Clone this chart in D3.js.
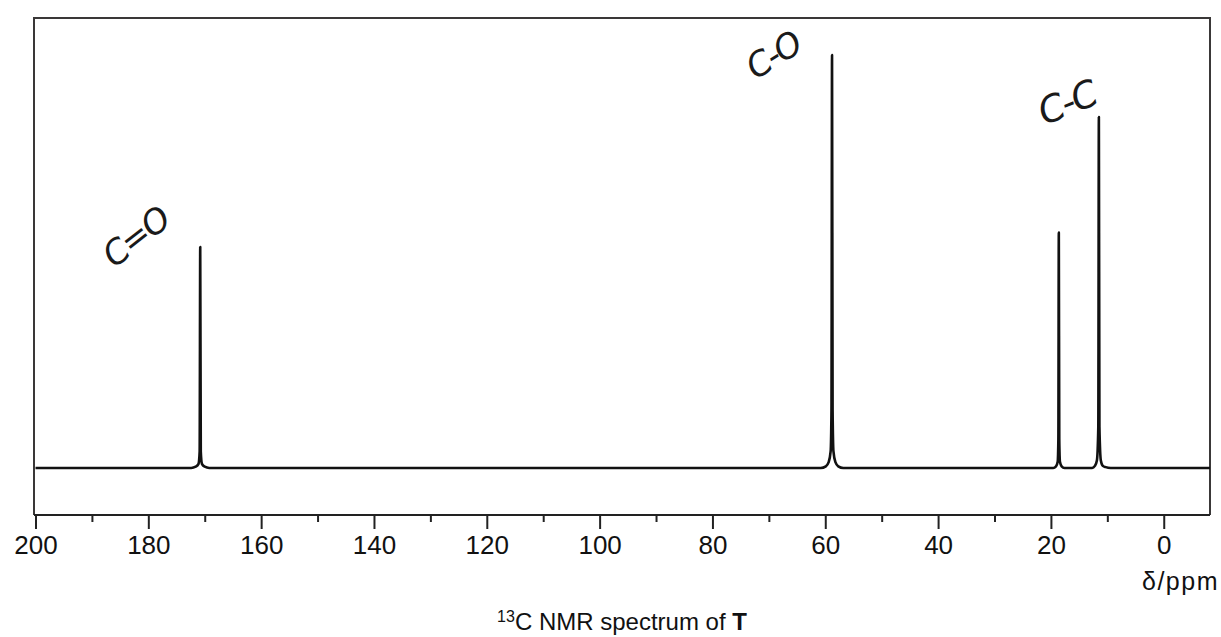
<!DOCTYPE html>
<html>
<head>
<meta charset="utf-8">
<script src="https://cdn.jsdelivr.net/npm/d3@7/dist/d3.min.js"></script>
<style>
  html, body { margin: 0; padding: 0; background: #ffffff; }
  svg { display: block; }
</style>
</head>
<body>
<svg id="chart" width="1221" height="637"></svg>
<script>
// Chemical-shift axis ticks (ppm)
const majorTicks = [200, 180, 160, 140, 120, 100, 80, 60, 40, 20, 0];
const minorTicks = [190, 170, 150, 130, 110, 90, 70, 50, 30, 10];

// Spectrum trace: chemical shift (ppm) and relative intensity, point by point
const tracePpm = [
  200.0,
  172.4, 171.6, 171.1, 170.9, 170.8, 170.7, 170.5, 170.0, 169.2,
  60.8, 59.9, 59.4, 59.05, 58.9, 58.8, 58.7, 58.55, 58.2, 57.7, 56.8,
  19.6, 19.1, 18.8, 18.68, 18.6, 18.52, 18.4, 18.1, 17.6,
  12.7, 12.2, 11.85, 11.6, 11.5, 11.4, 11.15, 10.8, 10.3, 9.4,
  -8.2
];
const traceIntensity = [
  0,
  0, 0.3, 1.0, 4.0, 53.5, 4.0, 1.0, 0.3, 0,
  0, 0.4, 1.4, 4.0, 14.0, 100, 14.0, 4.0, 1.4, 0.4, 0,
  0, 0.4, 1.5, 7.0, 57, 7.0, 1.5, 0.4, 0,
  0, 0.5, 1.8, 10.0, 85, 10.0, 1.8, 0.5, 0.2, 0,
  0
];

// Peak assignments written beside the peaks
const labelText = ["C=O", "C-O", "C-C"];
const labelPpm = [182.0, 69.0, 17.0];
const labelIntensity = [55.5, 99.5, 88.0];
const labelAngle = [-38, -32, -22];
const labelSize = [34, 34, 37];

const xTitle = "δ/ppm";

const svg = d3.select("#chart");

const plot = { left: 34, right: 1210, top: 18, bottom: 515 };

const x = d3.scaleLinear().domain([200, -8.2]).range([35.5, 1210]);
const y = d3.scaleLinear().domain([-11.4, 109]).range([plot.bottom, plot.top]);

// Frame (left, top, right); the bottom edge is the axis line
svg.append("path")
  .attr("d", `M${plot.left},${plot.bottom} V${plot.top} H${plot.right} V${plot.bottom}`)
  .attr("fill", "none")
  .attr("stroke", "#3a3838")
  .attr("stroke-width", 2);

// Minor ticks
const minorAxis = d3.axisBottom(x).tickValues(minorTicks).tickSize(7).tickFormat("");
svg.append("g")
  .attr("transform", `translate(0,${plot.bottom})`)
  .call(minorAxis)
  .call(g => g.select(".domain").remove())
  .call(g => g.selectAll(".tick line").attr("stroke", "#222").attr("stroke-width", 2));

// Major ticks with labels
const majorAxis = d3.axisBottom(x).tickValues(majorTicks).tickSize(14).tickPadding(7)
  .tickFormat(d3.format("d"));
const gx = svg.append("g")
  .attr("transform", `translate(0,${plot.bottom})`)
  .call(majorAxis);
gx.select(".domain")
  .attr("d", `M${plot.left},0 H${plot.right}`)
  .attr("stroke", "#222")
  .attr("stroke-width", 2.2);
gx.selectAll(".tick line").attr("stroke", "#222").attr("stroke-width", 2);
gx.selectAll(".tick text")
  .attr("fill", "#111")
  .style("font-family", "'Liberation Sans', Arial, sans-serif")
  .style("font-size", "26px");

// Axis unit
svg.append("text")
  .attr("x", 1219)
  .attr("y", 590)
  .attr("text-anchor", "end")
  .attr("fill", "#111")
  .style("font-family", "'Liberation Sans', Arial, sans-serif")
  .style("font-size", "25px")
  .style("letter-spacing", "1.5px")
  .text(xTitle);

// Spectrum
const trace = tracePpm.map((p, i) => [p, traceIntensity[i]]);
const line = d3.line()
  .x(d => x(d[0]))
  .y(d => y(d[1]))
  .curve(d3.curveMonotoneX);

svg.append("path")
  .datum(trace)
  .attr("d", line)
  .attr("fill", "none")
  .attr("stroke", "#111")
  .attr("stroke-width", 2.6)
  .attr("stroke-linejoin", "round");

// Handwritten assignments
labelText.forEach((t, i) => {
  const cx = x(labelPpm[i]);
  const cy = y(labelIntensity[i]);
  svg.append("text")
    .attr("transform", `translate(${cx},${cy}) rotate(${labelAngle[i]})`)
    .attr("text-anchor", "middle")
    .attr("dominant-baseline", "middle")
    .attr("fill", "#1a1a1a")
    .style("font-family", "'DejaVu Sans', sans-serif")
    .style("font-weight", "200")
    .style("font-style", "italic")
    .style("font-size", labelSize[i] + "px")
    .style("letter-spacing", "-2px")
    .text(t);
});

// Caption
const cap = svg.append("text")
  .attr("x", 622)
  .attr("y", 630)
  .attr("text-anchor", "middle")
  .attr("fill", "#111")
  .style("font-family", "'Liberation Sans', Arial, sans-serif")
  .style("font-size", "24px");
cap.append("tspan").attr("baseline-shift", "super").style("font-size", "16px").text("13");
cap.append("tspan").text("C NMR spectrum of ");
cap.append("tspan").style("font-weight", "bold").text("T");
</script>
</body>
</html>
